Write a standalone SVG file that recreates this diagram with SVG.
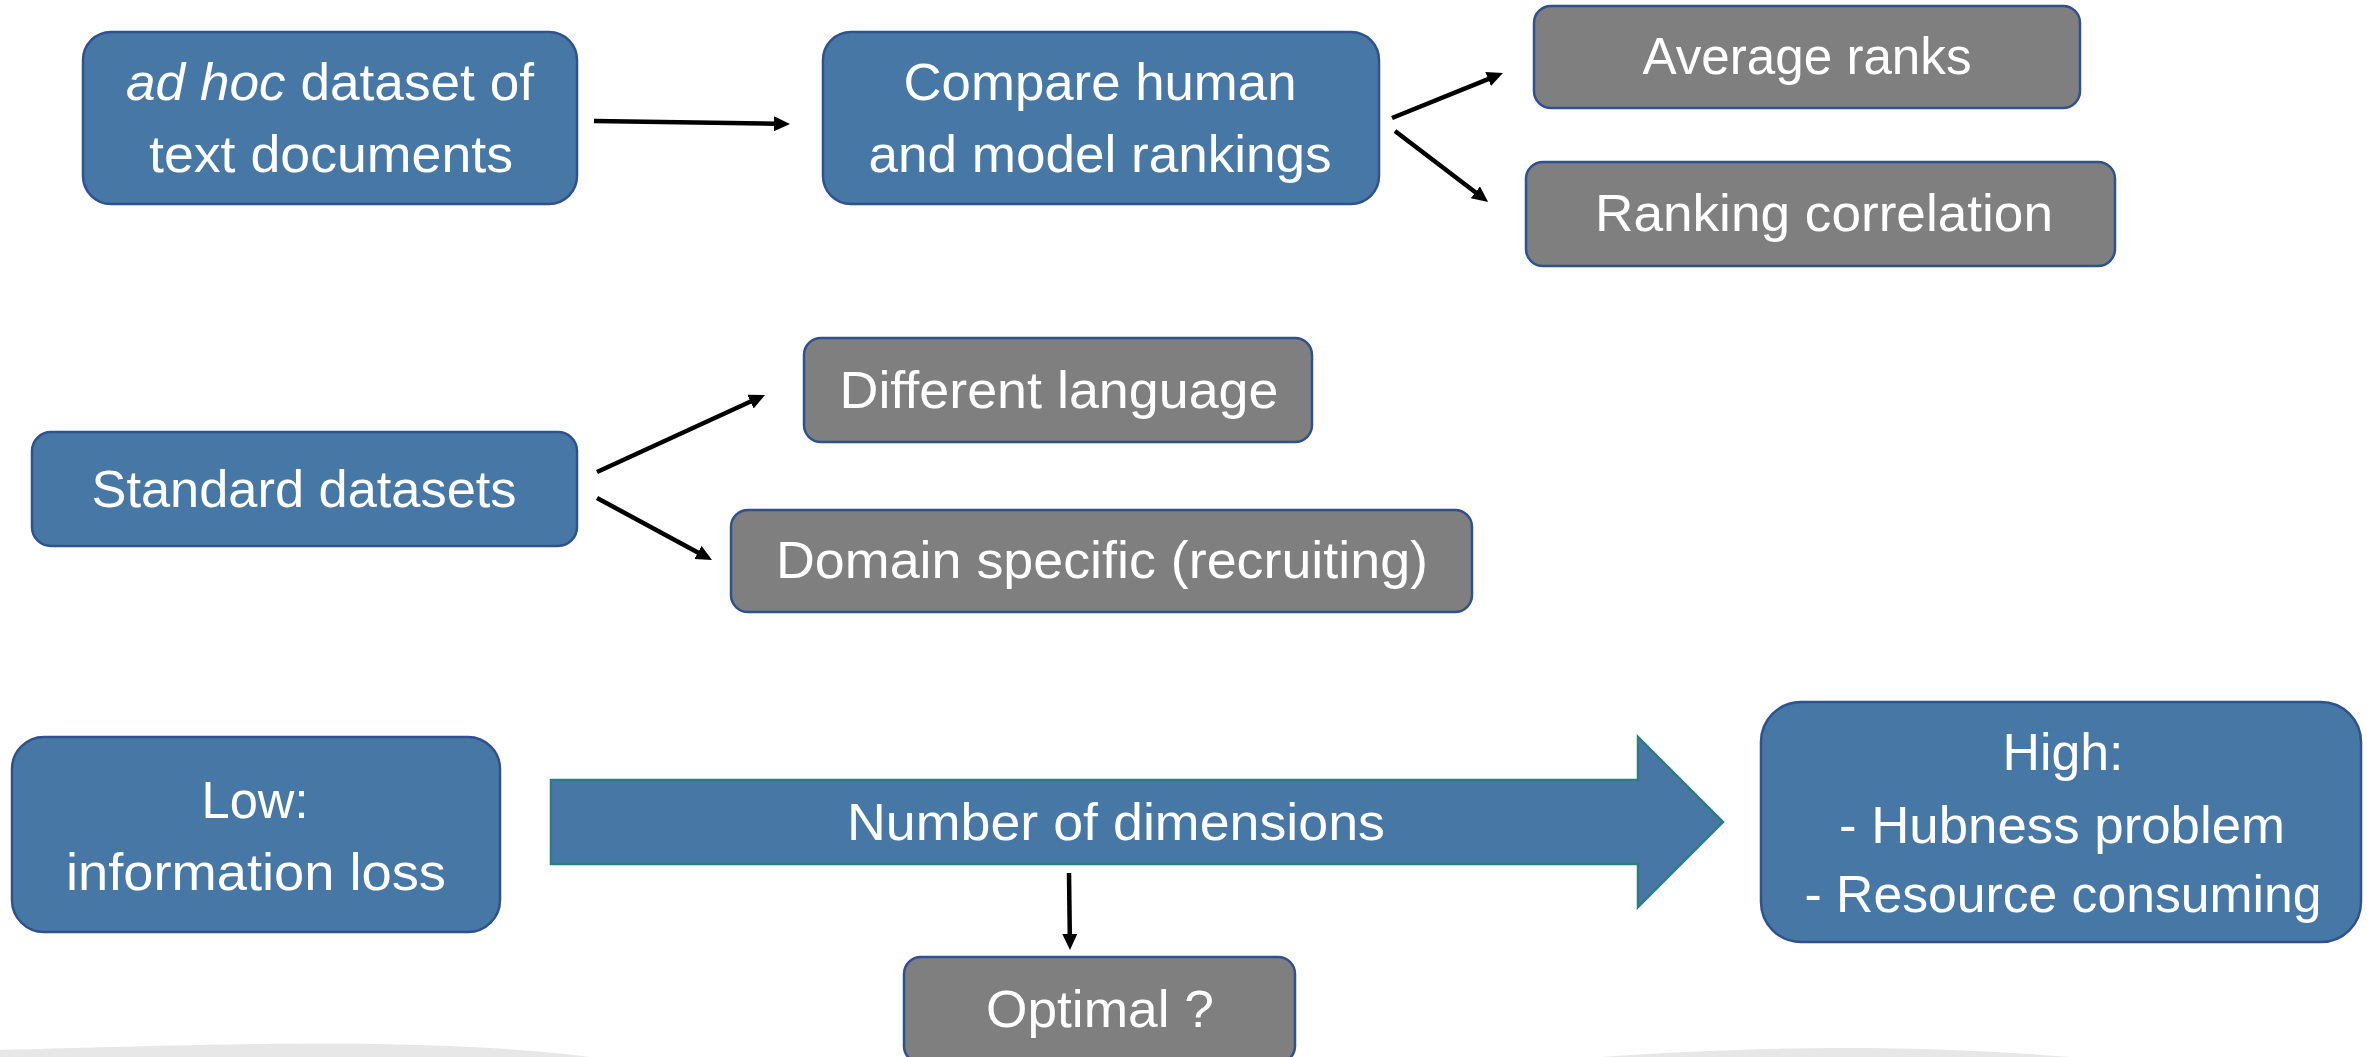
<svg xmlns="http://www.w3.org/2000/svg" width="2367" height="1057" viewBox="0 0 2367 1057">
<style>
.blue{fill:#4778A5;stroke:#2F528F;stroke-width:2.5}
.gray{fill:#7F7F7F;stroke:#2F528F;stroke-width:2.5}
.t{font-family:"Liberation Sans",Arial,sans-serif;font-size:52px;fill:#FFFFFF;text-anchor:middle}
.c{stroke:#000;stroke-width:4.5;fill:none;marker-end:url(#ah)}
.bg{fill:#E7E7E7}
</style>
<defs>
<marker id="ah" markerUnits="userSpaceOnUse" markerWidth="18" markerHeight="16" refX="2" refY="7.5" orient="auto">
<path d="M0,0 L16,7.5 L0,15 z" fill="#000"/>
</marker>
</defs>
<rect width="2367" height="1057" fill="#FFFFFF"/>
<g id="background">
<path class="bg" d="M0,1050 C120,1047 280,1042 380,1044 C470,1046 540,1050 590,1057 L0,1057 Z"/>
<path class="bg" d="M1600,1057 C1690,1051 1780,1048 1845,1048 C1930,1048 2010,1052 2070,1057 Z"/>
</g>
<g id="connectors">
<path class="c" d="M594,121 L776,123.8"/>
<path class="c" d="M1392,118 L1490,78.3"/>
<path class="c" d="M1395,131 L1477,193.5"/>
<path class="c" d="M597,472 L752.3,400.8"/>
<path class="c" d="M597,498 L699.7,553.4"/>
<path class="c" d="M1069,873 L1069.8,936"/>
</g>
<g id="node-adhoc">
<rect class="blue" x="83" y="32" width="494" height="172" rx="28"/>
<text class="t" x="330" y="100" textLength="408" lengthAdjust="spacingAndGlyphs"><tspan font-style="italic">ad hoc</tspan> dataset of</text>
<text class="t" x="331" y="172" textLength="364" lengthAdjust="spacingAndGlyphs">text documents</text>
</g>
<g id="node-compare">
<rect class="blue" x="823" y="32" width="556" height="172" rx="28"/>
<text class="t" x="1100" y="100" textLength="393" lengthAdjust="spacingAndGlyphs">Compare human</text>
<text class="t" x="1100" y="172" textLength="463" lengthAdjust="spacingAndGlyphs">and model rankings</text>
</g>
<g id="node-average">
<rect class="gray" x="1534" y="6" width="546" height="102" rx="17"/>
<text class="t" x="1807" y="74" textLength="329" lengthAdjust="spacingAndGlyphs">Average ranks</text>
</g>
<g id="node-correlation">
<rect class="gray" x="1526" y="162" width="589" height="104" rx="17"/>
<text class="t" x="1824" y="231" textLength="458" lengthAdjust="spacingAndGlyphs">Ranking correlation</text>
</g>
<g id="node-standard">
<rect class="blue" x="32" y="432" width="545" height="114" rx="19"/>
<text class="t" x="304" y="507" textLength="425" lengthAdjust="spacingAndGlyphs">Standard datasets</text>
</g>
<g id="node-language">
<rect class="gray" x="804" y="338" width="508" height="104" rx="17"/>
<text class="t" x="1059" y="408" textLength="439" lengthAdjust="spacingAndGlyphs">Different language</text>
</g>
<g id="node-domain">
<rect class="gray" x="731" y="510" width="741" height="102" rx="17"/>
<text class="t" x="1102" y="578" textLength="652" lengthAdjust="spacingAndGlyphs">Domain specific (recruiting)</text>
</g>
<g id="node-low">
<rect class="blue" x="12" y="737" width="488" height="195" rx="32"/>
<text class="t" x="255" y="818" textLength="107" lengthAdjust="spacingAndGlyphs">Low:</text>
<text class="t" x="256" y="890" textLength="380" lengthAdjust="spacingAndGlyphs">information loss</text>
</g>
<g id="node-dimensions">
<polygon points="551,780 1638,780 1638,737 1723,822 1638,907 1638,864 551,864" fill="#4778A5" stroke="#2E7C86" stroke-width="2.5"/>
<text class="t" x="1116" y="840" textLength="538" lengthAdjust="spacingAndGlyphs">Number of dimensions</text>
</g>
<g id="node-high">
<rect class="blue" x="1761" y="702" width="600" height="240" rx="40"/>
<text class="t" x="2063" y="770" textLength="121" lengthAdjust="spacingAndGlyphs">High:</text>
<text class="t" x="2062" y="843" textLength="446" lengthAdjust="spacingAndGlyphs">- Hubness problem</text>
<text class="t" x="2063" y="912" textLength="517" lengthAdjust="spacingAndGlyphs">- Resource consuming</text>
</g>
<g id="node-optimal">
<rect class="gray" x="904" y="957" width="391" height="106" rx="17"/>
<text class="t" x="1100" y="1027" textLength="228" lengthAdjust="spacingAndGlyphs">Optimal ?</text>
</g>
</svg>
